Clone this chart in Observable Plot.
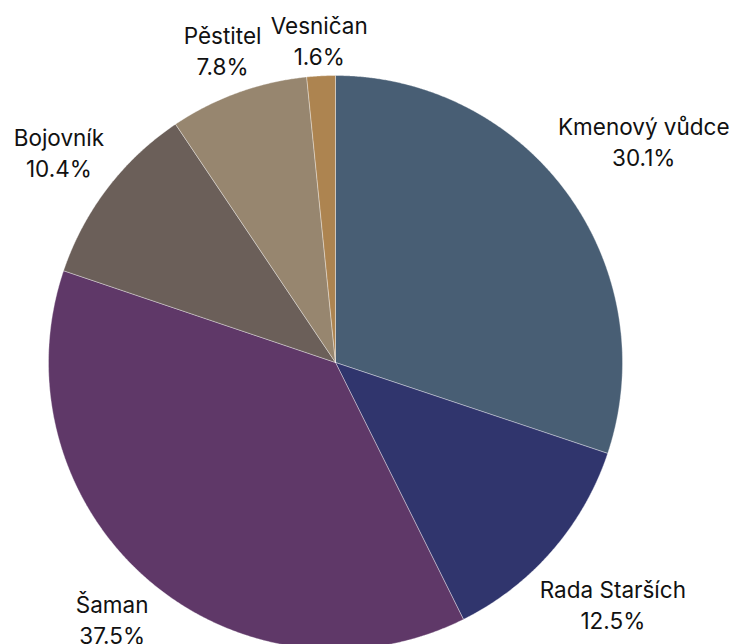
<!DOCTYPE html>
<html><head><meta charset="utf-8">
<script src="https://cdn.jsdelivr.net/npm/d3@7"></script>
<script src="https://cdn.jsdelivr.net/npm/@observablehq/plot@0.6"></script>
<style>body{margin:0;background:#fff;font-family:Inter,sans-serif}</style>
</head><body><div id="chart"></div>
<script>
const categories = ["Kmenový vůdce","Rada Starších","Šaman","Bojovník","Pěstitel","Vesničan"];
const shares = [30.1,12.5,37.5,10.4,7.8,1.6];
const valueLabels = ["30.1%","12.5%","37.5%","10.4%","7.8%","1.6%"];
const colors = ["#485e74","#30356d","#5f3868","#6b5f59","#97866f","#ad8450"];

const W = 732, H = 644, R = 287, CX = 335, CY = 362;
const fontSize = 22.5, lineHeight = 1.38, gap = 9;

const arcs = d3.pie().sort(null).value(d => d)(shares);

const poly = [];
arcs.forEach((a, i) => {
  const n = Math.max(2, Math.ceil((a.endAngle - a.startAngle) / (Math.PI / 720)));
  poly.push({cat: categories[i], x: 0, y: 0});
  for (let k = 0; k <= n; k++) {
    const t = a.startAngle + (a.endAngle - a.startAngle) * k / n;
    poly.push({cat: categories[i], x: R * Math.sin(t), y: R * Math.cos(t)});
  }
  poly.push({cat: categories[i], x: 0, y: 0});
});

const ctx = document.createElement("canvas").getContext("2d");
ctx.font = `${fontSize}px Inter`;
const labels = arcs.map((a, i) => {
  const m = (a.startAngle + a.endAngle) / 2;
  const ux = Math.sin(m), uy = Math.cos(m);
  const w = Math.max(ctx.measureText(categories[i]).width, ctx.measureText(valueLabels[i]).width);
  const h = fontSize * (lineHeight + 1);
  const dist = d => Math.hypot(Math.max(0, Math.abs(d * ux) - w / 2), Math.max(0, Math.abs(d * uy) - h / 2));
  let lo = 0, hi = 1000;
  for (let k = 0; k < 60; k++) { const mid = (lo + hi) / 2; if (dist(mid) < R + gap) lo = mid; else hi = mid; }
  return {text: categories[i] + "\n" + valueLabels[i], x: lo * ux, y: lo * uy};
});

const chart = Plot.plot({
  width: W, height: H, margin: 0,
  x: {domain: [-CX, W - CX], axis: null},
  y: {domain: [-(H - CY), CY], axis: null},
  color: {domain: categories, range: colors},
  marks: [
    Plot.line(poly, {x: "x", y: "y", z: "cat", fill: "cat", stroke: "white", strokeOpacity: 0.6, strokeWidth: 0.6, curve: "linear"}),
    Plot.text(labels, {x: "x", y: "y", text: "text", fontSize, lineHeight, fontFamily: "Inter", fill: "#111", textAnchor: "middle", lineAnchor: "middle"})
  ]
});
document.getElementById("chart").appendChild(chart);
</script>
</body></html>
